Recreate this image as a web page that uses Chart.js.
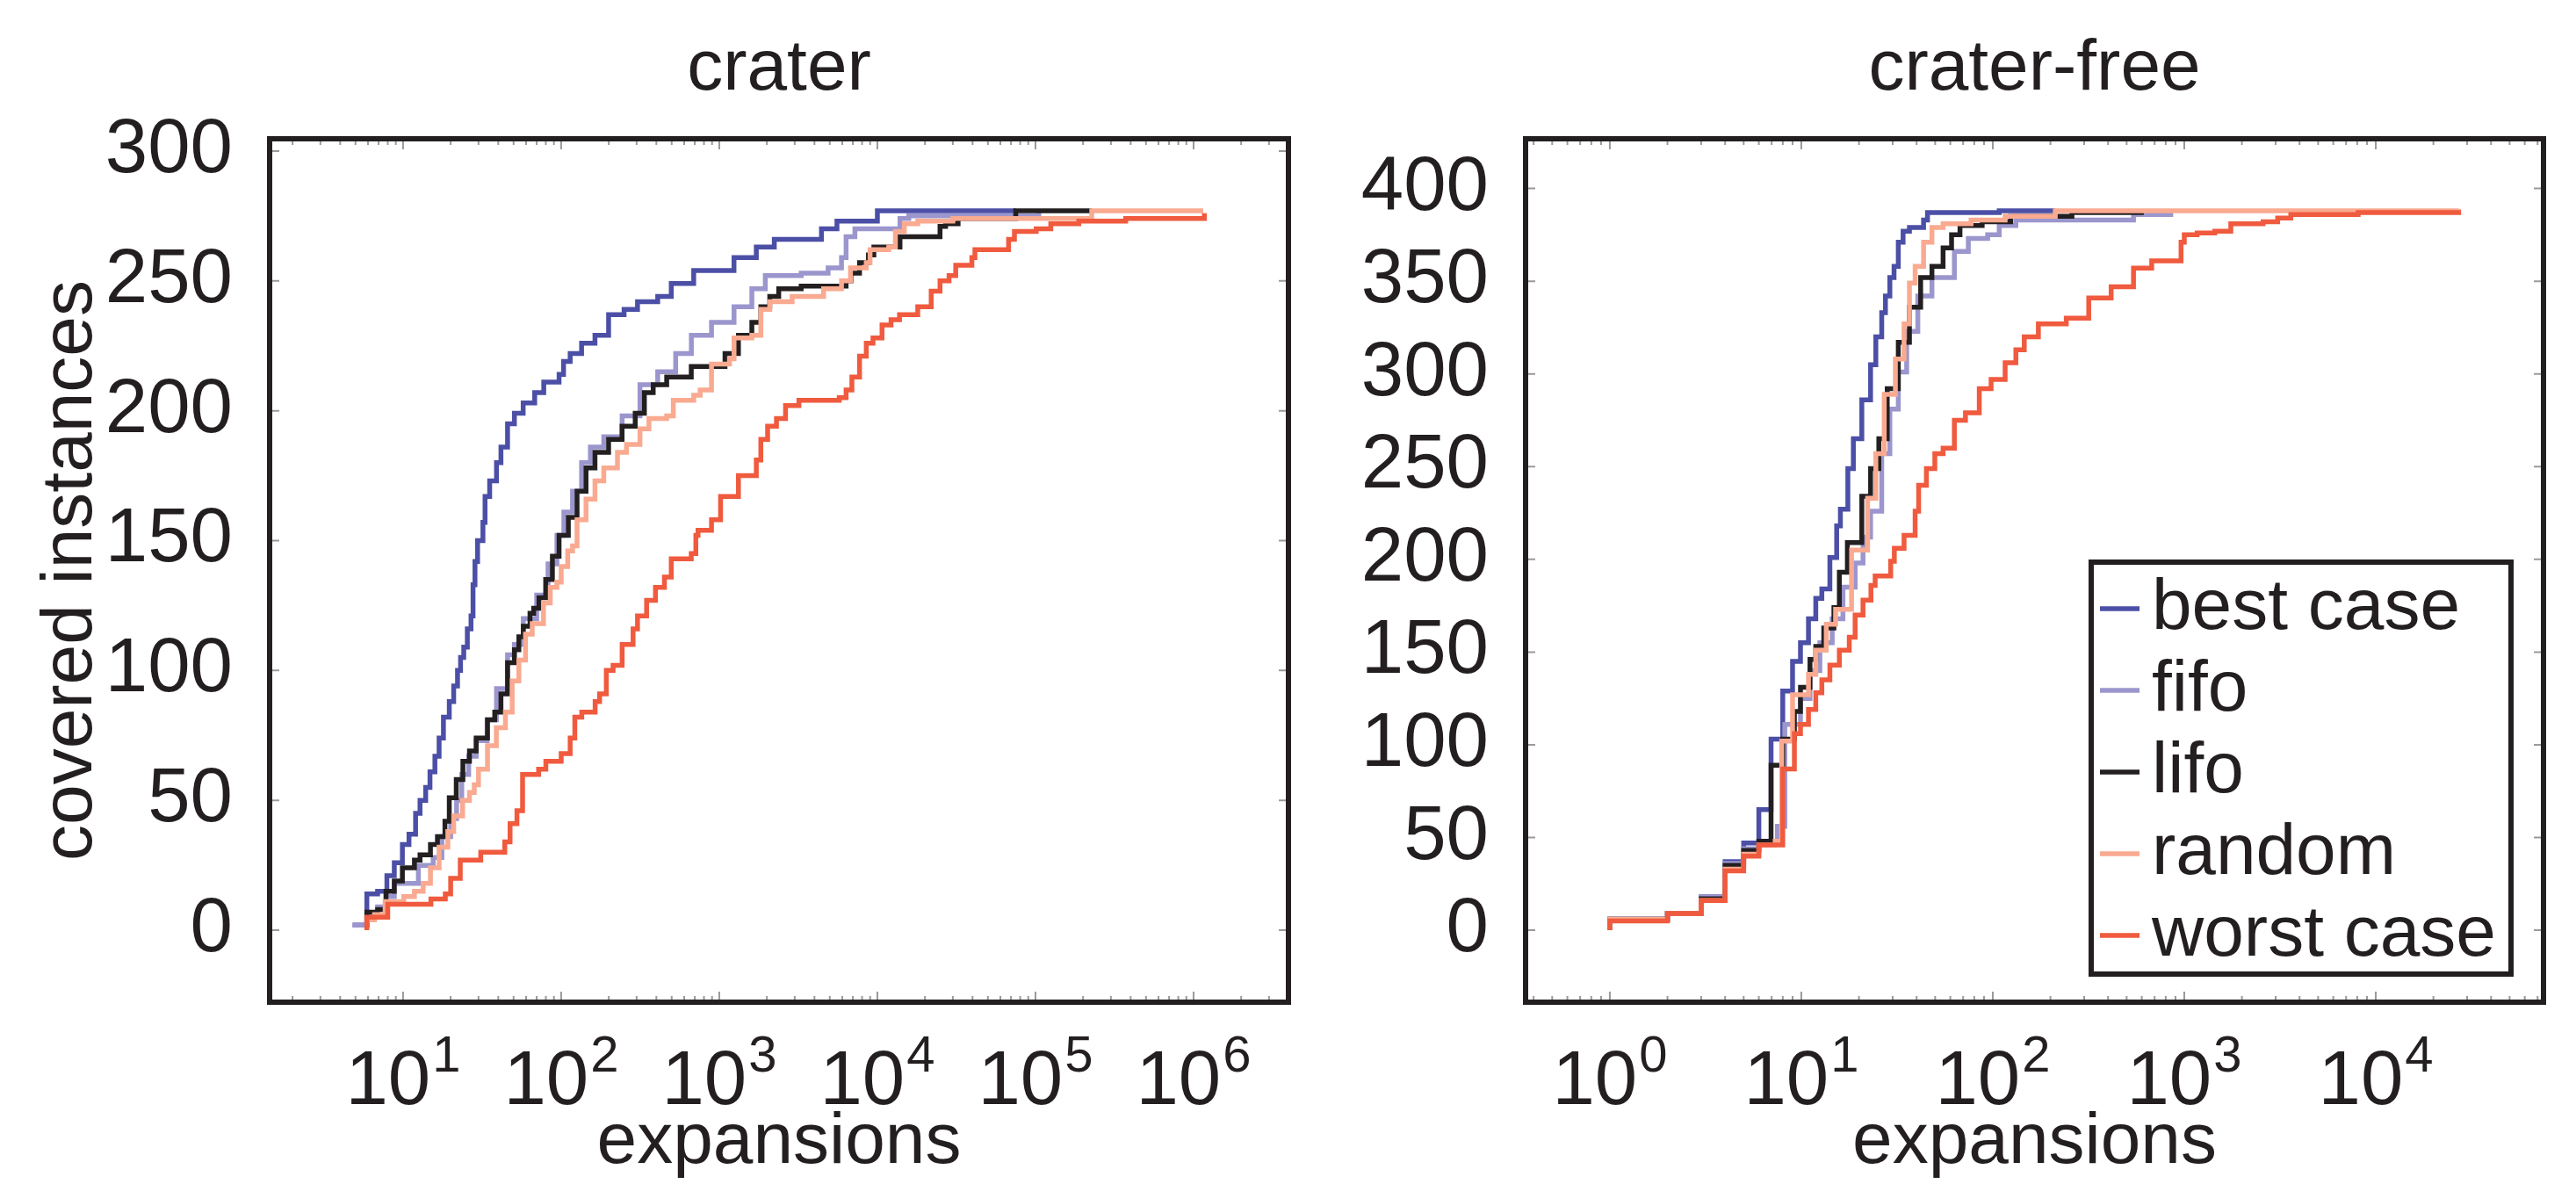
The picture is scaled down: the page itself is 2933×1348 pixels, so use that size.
<!DOCTYPE html>
<html>
<head>
<meta charset="utf-8">
<title>crater / crater-free</title>
<script src="https://cdn.jsdelivr.net/npm/chart.js@4.4.1/dist/chart.umd.min.js"></script>
<style>
  html, body { margin: 0; padding: 0; background: #fff; }
  body { width: 2933px; height: 1348px; position: relative; overflow: hidden; }
  canvas { position: absolute; top: 0; }
  #crater { left: 0; }
  #craterFree { left: 1500px; }
</style>
</head>
<body>
<canvas id="crater" width="1500" height="1348"></canvas>
<canvas id="craterFree" width="1433" height="1348"></canvas>
<script>
/* ---- data: expansions (x) vs covered instances (y), step curves ---- */
const seriesLabels = ['best case', 'fifo', 'lifo', 'random', 'worst case'];

// crater
const craterBestX = [4.8, 5.9, 6.9, 7.9, 8.8, 9.9, 10.9, 12, 12.8, 13.9, 14.8, 15.9, 16.9, 18, 19.6, 20.9, 22.1, 23.1, 24.2, 25.5, 26.9, 27.7, 28.5, 29.6, 32, 33, 35.3, 39, 41.6, 45.8, 50.6, 57.5, 68, 77.6, 97, 103.5, 114, 134.6, 163.6, 199.5, 250, 304, 408, 497, 689, 1239, 1715, 2229, 4430, 5550, 10000, 75000];
const craterBestY = [2, 14, 15, 21, 26, 33, 37, 45, 50, 55, 61, 67, 74, 82, 88, 94, 100, 105, 109, 116, 121, 133, 142, 150, 157, 167, 173, 180, 186, 195, 199, 203, 207, 211, 214, 219, 222, 226, 229, 237, 239, 242, 244, 249, 254, 259, 263, 266, 270, 273, 277, 277];
const craterFifoX = [4.8, 5.9, 6.9, 7.8, 8.8, 12.5, 15.5, 17.6, 20, 21.8, 23.5, 26, 29, 34, 39, 45.8, 50.6, 57.6, 70, 82.6, 94, 104, 118, 134.6, 153, 186, 243, 315, 408, 530, 666, 893, 1240, 1607, 1955, 3296, 4880, 5930, 6340, 7210, 13900, 15800, 105000];
const craterFifoY = [2, 6, 9, 13, 18, 25, 28, 36, 43, 50, 60, 67, 73, 81, 93, 106, 110, 120, 129, 141, 152, 161, 169, 180, 186, 190, 198, 210, 215, 222, 229, 234, 240, 247, 252, 253, 255, 259, 267, 270, 274, 275, 277];
const craterLifoX = [5.9, 5.9, 6.9, 7.8, 8.8, 9.9, 11.8, 12.8, 14.9, 16.5, 18.4, 19.6, 21.7, 23.9, 26.3, 29, 34.2, 38, 41.6, 45.8, 50.6, 54, 57.6, 63.5, 67, 72.4, 79.8, 88, 97, 111, 126, 143.6, 163.6, 199.5, 242.7, 294, 336, 382, 465, 665, 1087, 1322, 1607, 1832, 2086, 2377, 3296, 6340, 6800, 7710, 8780, 9500, 13900, 24900, 27000, 32400, 75000, 227000];
const craterLifoY = [1, 7, 8, 15, 19, 24, 27, 29, 33, 36, 42, 51, 58, 65, 69, 74, 81, 84, 91, 103, 108, 113, 117, 122, 124, 128, 135, 144, 152, 159, 169, 178, 184, 189, 194, 199, 207, 210, 213, 217, 222, 229, 234, 240, 244, 247, 248, 250, 253, 257, 260, 263, 267, 271, 272, 274, 277, 277];
const craterRandomX = [5.9, 5.9, 6.6, 7.7, 10.1, 11.8, 13.4, 14.9, 16.9, 19.2, 20.9, 23.8, 26.3, 28.2, 30, 34.2, 38.9, 44.4, 49, 54, 59.5, 65.6, 77.3, 85.3, 94, 100, 110, 118, 126, 143.6, 163.6, 186, 227, 259, 315, 359, 465, 512, 689, 757, 893, 1160, 1240, 1607, 1832, 2086, 2890, 4570, 5930, 6760, 8510, 8990, 11800, 13000, 14800, 18000, 30000, 227000, 1150000];
const craterRandomY = [1, 4, 6, 11, 13, 15, 18, 24, 32, 38, 44, 50, 53, 56, 62, 71, 78, 84, 96, 104, 114, 118, 126, 132, 134, 140, 146, 148, 158, 166, 173, 178, 184, 187, 193, 197, 198, 204, 206, 208, 218, 220, 228, 229, 239, 242, 244, 247, 250, 255, 257, 262, 263, 269, 272, 273, 274, 277, 277];
const craterWorstX = [5.9, 5.9, 8, 15, 18.5, 20, 23, 31, 44, 47.5, 52.5, 57, 72, 80, 100, 114, 122, 135, 164, 175, 193, 213, 243, 285, 304, 347, 395, 450, 497, 665, 711, 734, 893, 1019, 1322, 1715, 1832, 2022, 2300, 2625, 3190, 5740, 6340, 6900, 7710, 8510, 9380, 10700, 12200, 13800, 18000, 21900, 24900, 28400, 31300, 39600, 41400, 67600, 73600, 101000, 125000, 188000, 372000, 1170000];
const craterWorstY = [0, 5, 10, 12, 14, 20, 27, 30, 34, 41, 46, 60, 62, 65, 68, 74, 82, 84, 88, 91, 100, 102, 110, 116, 121, 127, 132, 136, 143, 145, 152, 154, 158, 167, 175, 181, 189, 194, 197, 202, 204, 205, 208, 213, 221, 226, 228, 233, 235, 237, 240, 246, 250, 252, 256, 259, 262, 266, 269, 270, 272, 273, 274, 276];

// crater-free
const freeBestX = [1, 1, 2, 3, 4, 5, 6, 6.95, 8, 9, 9.9, 10.9, 11.9, 12.8, 14.1, 15.3, 16, 17.5, 18.7, 20.7, 23, 24.5, 26.3, 27.5, 29, 30.5, 32.1, 34, 36.7, 43.5, 45.6, 108, 212];
const freeBestY = [0, 6, 9, 18, 37, 47, 65, 103, 129, 145, 155, 168, 179, 184, 201, 218, 227, 249, 265, 286, 305, 320, 333, 342, 352, 358, 371, 377, 379, 383, 387, 388, 388];
const freeFifoX = [1, 1, 2, 3, 4, 5, 6, 7.5, 8.2, 9.9, 11.1, 12.5, 14.5, 16.5, 19.1, 21, 23, 26.3, 29, 32.1, 35.5, 40.6, 48.1, 63, 74.5, 94, 108, 132, 543, 850];
const freeFifoY = [0, 6, 9, 18, 36, 44, 48, 56, 111, 125, 140, 155, 168, 185, 198, 212, 226, 257, 281, 301, 323, 342, 352, 366, 373, 375, 380, 383, 386, 387];
const freeLifoX = [1, 1, 2, 3, 4, 5, 6, 6.95, 8, 9.2, 9.9, 11.1, 11.9, 13.1, 14.8, 15.8, 17.4, 20.7, 23, 25.4, 28.1, 32.1, 36.7, 42, 48.1, 55, 60.9, 67.4, 88, 124, 259, 597];
const freeLifoY = [0, 6, 9, 17, 35, 43, 48, 89, 103, 118, 131, 146, 153, 163, 174, 193, 209, 234, 249, 265, 292, 317, 336, 352, 358, 368, 375, 380, 382, 385, 387, 388];
const freeRandomX = [1, 1, 2, 3, 4, 5, 6, 7.3, 7.9, 9, 10.9, 11.9, 13.5, 15.1, 18.3, 22.2, 24.5, 27.1, 31, 34.4, 36.7, 39.3, 43.5, 48.1, 55, 77, 116, 212, 27000];
const freeRandomY = [0, 6, 9, 16, 33, 41, 46, 48, 102, 127, 138, 151, 165, 173, 205, 233, 257, 289, 308, 327, 349, 358, 371, 379, 381, 383, 385, 388, 389];
const freeWorstX = [1, 1, 2, 3, 4, 5, 6, 8, 9.2, 9.9, 10.9, 11.9, 12.8, 14.1, 15.8, 17.8, 19.1, 21, 23.1, 24.3, 29.3, 30.6, 34.4, 39.3, 41, 45, 49.8, 55, 63, 72, 85, 98, 116, 132, 146, 173, 242, 317, 415, 543, 676, 962, 1000, 1167, 1443, 1750, 2578, 3074, 3600, 8090, 27900];
const freeWorstY = [0, 5, 9, 16, 32, 40, 46, 87, 106, 111, 119, 128, 135, 143, 151, 158, 170, 178, 186, 191, 199, 206, 213, 226, 240, 249, 257, 260, 275, 279, 292, 297, 306, 313, 320, 327, 330, 341, 347, 357, 361, 371, 375, 376, 377, 381, 382, 384, 386, 387, 387];

// tick labels
const craterExps = [1, 2, 3, 4, 5, 6];
const freeExps = [0, 1, 2, 3, 4];
const craterYTicks = [0, 50, 100, 150, 200, 250, 300];
const freeYTicks = [0, 50, 100, 150, 200, 250, 300, 350, 400];

/* ---- styling ---- */
const INK = '#231f20';
const TICK_GRAY = '#9a9a9a';
const SERIES_COLORS = ['#4c4fa6', '#9b96cd', '#231f20', '#f9aa90', '#f05a3e'];
const TEXT_FAMILY = "'Liberation Sans', Arial, sans-serif";
const LINE_W = 5.5;

function hasFont(name) {
  const c = document.createElement('canvas').getContext('2d');
  c.font = '40px monospace';
  const a = c.measureText('0123456789 abc').width;
  c.font = `40px '${name}', monospace`;
  return c.measureText('0123456789 abc').width !== a;
}
const NARROW = hasFont('Liberation Sans Narrow');
const TICK_FONT = NARROW
  ? { family: "'Liberation Sans Narrow', sans-serif", size: 93 }
  : { family: TEXT_FAMILY, size: 87 };
const SUP_SIZE = Math.round(TICK_FONT.size * 0.67);

Chart.defaults.font.family = TEXT_FAMILY;
Chart.defaults.color = INK;

// frame, inward ticks, 10^k labels and (optionally) the boxed legend
const frameTicks = {
  id: 'frameTicks',
  afterDatasetsDraw(chart, args, opts) {
    const { ctx, chartArea: a, scales: { x, y } } = chart;
    ctx.save();

    // minor/major ticks, pointing inward on all four sides
    ctx.strokeStyle = TICK_GRAY;
    ctx.lineWidth = 2;
    ctx.beginPath();
    const lo = Math.floor(Math.log10(x.min)), hi = Math.ceil(Math.log10(x.max));
    for (let k = lo; k <= hi; k++) {
      for (let m = 1; m < 10; m++) {
        const v = m * Math.pow(10, k);
        if (v < x.min || v > x.max) continue;
        const px = x.getPixelForValue(v), len = m === 1 ? 12 : 7;
        ctx.moveTo(px, a.bottom); ctx.lineTo(px, a.bottom - len);
        ctx.moveTo(px, a.top); ctx.lineTo(px, a.top + len);
      }
    }
    y.ticks.forEach(t => {
      const py = y.getPixelForValue(t.value);
      ctx.moveTo(a.left, py); ctx.lineTo(a.left + 11, py);
      ctx.moveTo(a.right, py); ctx.lineTo(a.right - 11, py);
    });
    ctx.stroke();

    ctx.strokeStyle = INK;
    ctx.lineWidth = 6;
    ctx.strokeRect(a.left, a.top, a.right - a.left, a.bottom - a.top);

    // x tick labels: 10 with a raised exponent
    ctx.fillStyle = INK;
    ctx.textBaseline = 'alphabetic';
    ctx.textAlign = 'left';
    opts.exps.forEach(e => {
      const px = x.getPixelForValue(Math.pow(10, e));
      ctx.font = `${TICK_FONT.size}px ${TICK_FONT.family}`;
      const wBase = ctx.measureText('10').width;
      ctx.font = `${SUP_SIZE}px ${TICK_FONT.family}`;
      const wSup = ctx.measureText(String(e)).width;
      const x0 = px - (wBase + wSup + 2) / 2;
      ctx.font = `${TICK_FONT.size}px ${TICK_FONT.family}`;
      ctx.fillText('10', x0, a.bottom + 116);
      ctx.font = `${SUP_SIZE}px ${TICK_FONT.family}`;
      ctx.fillText(String(e), x0 + wBase + 2, a.bottom + 79);
    });

    if (opts.legend) {
      const w = 478, h = 469;
      const lx = a.right - 37 - w, ly = a.bottom - 32 - h;
      ctx.fillStyle = '#fff';
      ctx.fillRect(lx, ly, w, h);
      ctx.strokeStyle = INK;
      ctx.lineWidth = 6;
      ctx.strokeRect(lx, ly, w, h);
      ctx.font = `82px ${TEXT_FAMILY}`;
      ctx.textBaseline = 'middle';
      chart.data.datasets.forEach((ds, i) => {
        const cy = ly + 53 + i * 93;
        ctx.strokeStyle = ds.borderColor;
        ctx.lineWidth = LINE_W;
        ctx.beginPath(); ctx.moveTo(lx + 10, cy); ctx.lineTo(lx + 55, cy); ctx.stroke();
        ctx.fillStyle = INK;
        ctx.fillText(ds.label, lx + 69, cy);
      });
    }
    ctx.restore();
  }
};

function makeChart(canvasId, cfg) {
  const datasets = cfg.series.map(([xs, ys], i) => ({
    label: seriesLabels[i],
    data: xs.map((x, j) => ({ x, y: ys[j] })),
    borderColor: SERIES_COLORS[i],
    backgroundColor: SERIES_COLORS[i],
    borderWidth: LINE_W,
    borderJoinStyle: 'miter',
    pointRadius: 0,
    stepped: true,
    fill: false,
    order: 5 - i,
  }));

  return new Chart(document.getElementById(canvasId), {
    type: 'line',
    data: { datasets },
    options: {
      responsive: false,
      animation: false,
      devicePixelRatio: 1,
      layout: { padding: { left: 0, right: cfg.padRight, top: 0, bottom: 0 } },
      plugins: {
        legend: { display: false },
        tooltip: { enabled: false },
        title: {
          display: true,
          text: cfg.title,
          fullSize: false,
          color: INK,
          font: { size: 82, weight: 'normal', lineHeight: 1 },
          padding: { top: 38, bottom: 38 },
        },
        frameTicks: { exps: cfg.exps, legend: cfg.legend },
      },
      scales: {
        x: {
          type: 'logarithmic',
          min: cfg.xMin,
          max: cfg.xMax,
          ticks: { display: false },
          grid: { display: false },
          border: { display: false },
          title: { display: true, text: 'expansions', color: INK, font: { size: 82, lineHeight: 1 }, padding: { top: 0, bottom: 6 } },
          afterFit: s => { s.height = 207; },
        },
        y: {
          type: 'linear',
          min: cfg.yMin,
          max: cfg.yMax,
          afterBuildTicks: s => { s.ticks = cfg.yTicks.map(v => ({ value: v })); },
          ticks: { font: TICK_FONT, color: INK, padding: 34 },
          grid: { display: false },
          border: { display: false },
          title: cfg.yTitle
            ? { display: true, text: cfg.yTitle, color: INK, font: { size: 82, lineHeight: 1 }, padding: { top: 40, bottom: 0 } }
            : { display: false },
          afterFit: s => { s.width = cfg.yWidth; },
        },
      },
    },
    plugins: [frameTicks],
  });
}

makeChart('crater', {
  title: 'crater',
  series: [[craterBestX, craterBestY], [craterFifoX, craterFifoY], [craterLifoX, craterLifoY], [craterRandomX, craterRandomY], [craterWorstX, craterWorstY]],
  xMin: Math.pow(10, 0.156), xMax: Math.pow(10, 6.6),
  yMin: -27.7, yMax: 304.7,
  yTicks: craterYTicks,
  exps: craterExps,
  yTitle: 'covered instances',
  yWidth: 307,
  padRight: 33,
  legend: false,
});

makeChart('craterFree', {
  title: 'crater-free',
  series: [[freeBestX, freeBestY], [freeFifoX, freeFifoY], [freeLifoX, freeLifoY], [freeRandomX, freeRandomY], [freeWorstX, freeWorstY]],
  xMin: Math.pow(10, -0.44), xMax: Math.pow(10, 4.876),
  yMin: -38.8, yMax: 426.8,
  yTicks: freeYTicks,
  exps: freeExps,
  yTitle: null,
  yWidth: 237,
  padRight: 37,
  legend: true,
});
</script>
</body>
</html>
